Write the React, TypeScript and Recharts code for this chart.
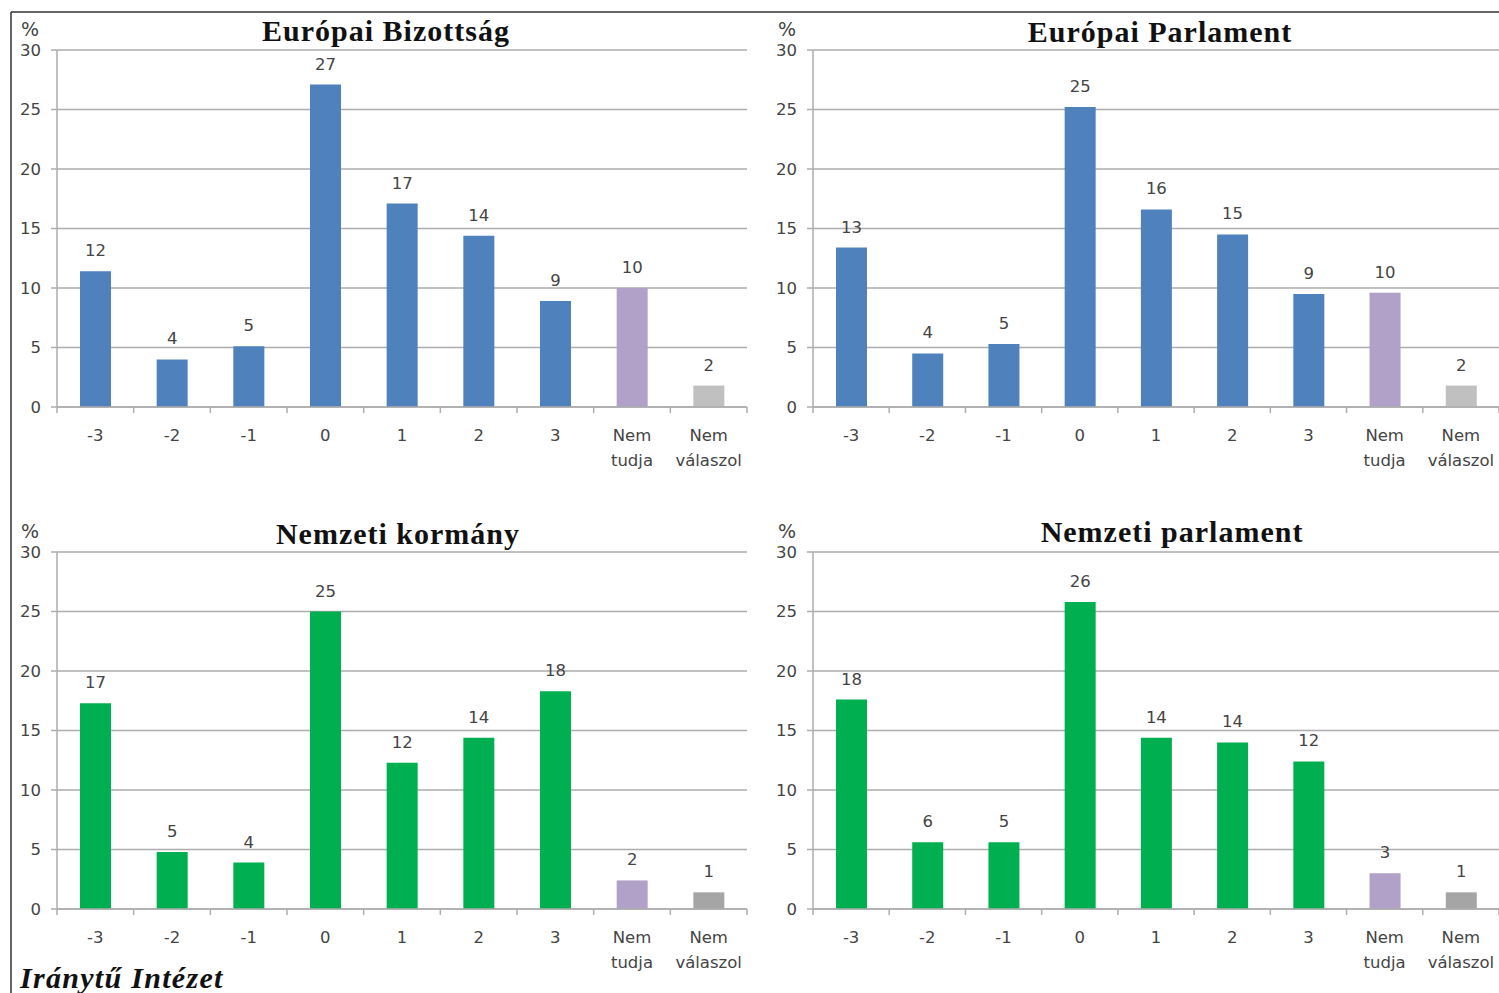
import React from "react";
import { BarChart, Bar, XAxis, YAxis, CartesianGrid, LabelList, Cell } from "recharts";

const categories = ["-3", "-2", "-1", "0", "1", "2", "3", "Nem tudja", "Nem válaszol"];
const yTicks = [0, 5, 10, 15, 20, 25, 30];

const ebValues = [11.4, 4.0, 5.1, 27.1, 17.1, 14.4, 8.9, 10.0, 1.8];
const ebLabels = [12, 4, 5, 27, 17, 14, 9, 10, 2];
const epValues = [13.4, 4.5, 5.3, 25.2, 16.6, 14.5, 9.5, 9.6, 1.8];
const epLabels = [13, 4, 5, 25, 16, 15, 9, 10, 2];
const nkValues = [17.3, 4.8, 3.9, 25.0, 12.3, 14.4, 18.3, 2.4, 1.4];
const nkLabels = [17, 5, 4, 25, 12, 14, 18, 2, 1];
const npValues = [17.6, 5.6, 5.6, 25.8, 14.4, 14.0, 12.4, 3.0, 1.4];
const npLabels = [18, 6, 5, 26, 14, 14, 12, 3, 1];

const blue = "#4F81BD";
const green = "#00B050";
const purple = "#B1A0C7";
const topColors = [blue, blue, blue, blue, blue, blue, blue, purple, "#C0C0C0"];
const bottomColors = [green, green, green, green, green, green, green, purple, "#A5A5A5"];

const GRID = "#ADADAD";
const TEXT = "#444";
const FONT = "'DejaVu Sans', sans-serif";
const SERIF = "'Liberation Serif', 'DejaVu Serif', serif";

const CategoryTick = (props: any) => {
  const { x, y, payload, index, bandWidth, count } = props;
  const words = String(payload.value).split(" ");
  return (
    <g>
      <line x1={x - bandWidth / 2} x2={x - bandWidth / 2} y1={y} y2={y + 6} stroke={GRID} strokeWidth={1.5} />
      {index === count - 1 && (
        <line x1={x + bandWidth / 2} x2={x + bandWidth / 2} y1={y} y2={y + 6} stroke={GRID} strokeWidth={1.5} />
      )}
      {words.map((w, i) => (
        <text key={i} x={x} y={y + 34 + i * 25} textAnchor="middle" fill={TEXT} fontSize={16.5} fontFamily={FONT}>
          {w}
        </text>
      ))}
    </g>
  );
};

function Panel({
  left, top, width, axisWidth, values, labels, colors,
}: {
  left: number; top: number; width: number; axisWidth: number;
  values: number[]; labels: number[]; colors: string[];
}) {
  const data = categories.map((name, i) => ({ name, value: values[i], label: labels[i] }));
  const marginRight = 3;
  const bandWidth = (width - axisWidth - marginRight) / categories.length;
  return (
    <div style={{ position: "absolute", left, top }}>
      <BarChart
        width={width}
        height={490}
        data={data}
        margin={{ top: 50, right: marginRight, bottom: 0, left: 0 }}
        barCategoryGap={0}
      >
        <CartesianGrid vertical={false} stroke={GRID} strokeWidth={1.5} />
        <XAxis
          dataKey="name"
          height={83}
          axisLine={{ stroke: GRID, strokeWidth: 1.5 }}
          tickLine={false}
          tickSize={0}
          tickMargin={0}
          interval={0}
          tick={<CategoryTick bandWidth={bandWidth} count={categories.length} />}
        />
        <YAxis
          width={axisWidth}
          domain={[0, 30]}
          ticks={yTicks}
          interval={0}
          axisLine={{ stroke: GRID, strokeWidth: 1.5 }}
          tickLine={{ stroke: GRID, strokeWidth: 1.5 }}
          tickSize={6}
          tickMargin={10}
          tick={{ fill: TEXT, fontSize: 16.5, fontFamily: FONT }}
        />
        <Bar dataKey="value" barSize={31} isAnimationActive={false}>
          {data.map((d, i) => (
            <Cell key={d.name} fill={colors[i]} />
          ))}
          <LabelList dataKey="label" position="top" offset={15} fill={TEXT} fontSize={16.5} fontFamily={FONT} />
        </Bar>
      </BarChart>
    </div>
  );
}

export default function App() {
  return (
    <div
      style={{
        position: "absolute", left: 0, top: 0, width: 1499, height: 993,
        overflow: "hidden", background: "#fff",
      }}
    >
      <Panel left={0} top={0} width={750} axisWidth={57} values={ebValues} labels={ebLabels} colors={topColors} />
      <Panel left={755} top={0} width={747} axisWidth={58} values={epValues} labels={epLabels} colors={topColors} />
      <Panel left={0} top={502} width={750} axisWidth={57} values={nkValues} labels={nkLabels} colors={bottomColors} />
      <Panel left={755} top={502} width={747} axisWidth={58} values={npValues} labels={npLabels} colors={bottomColors} />
      <svg width={1499} height={993} style={{ position: "absolute", left: 0, top: 0, pointerEvents: "none" }}>
        <line x1={11} x2={1499} y1={12} y2={12} stroke="#333" strokeWidth={1.5} />
        <line x1={11} x2={11} y1={12} y2={993} stroke="#333" strokeWidth={1.5} />
        <g fontFamily={SERIF} fontWeight="bold" fontSize={30} fill="#111" textAnchor="middle" letterSpacing={1}>
          <text x={386} y={41}>Európai Bizottság</text>
          <text x={1160} y={42}>Európai Parlament</text>
          <text x={398} y={544}>Nemzeti kormány</text>
          <text x={1172} y={542}>Nemzeti parlament</text>
        </g>
        <g fontFamily={FONT} fontSize={19} fill={TEXT} textAnchor="middle">
          <text x={30} y={36}>%</text>
          <text x={787} y={36}>%</text>
          <text x={30} y={538}>%</text>
          <text x={787} y={538}>%</text>
        </g>
        <text x={20} y={988} fontFamily={SERIF} fontWeight="bold" fontStyle="italic" fontSize={30} fill="#111" letterSpacing={1.3}>
          Iránytű Intézet
        </text>
      </svg>
    </div>
  );
}
